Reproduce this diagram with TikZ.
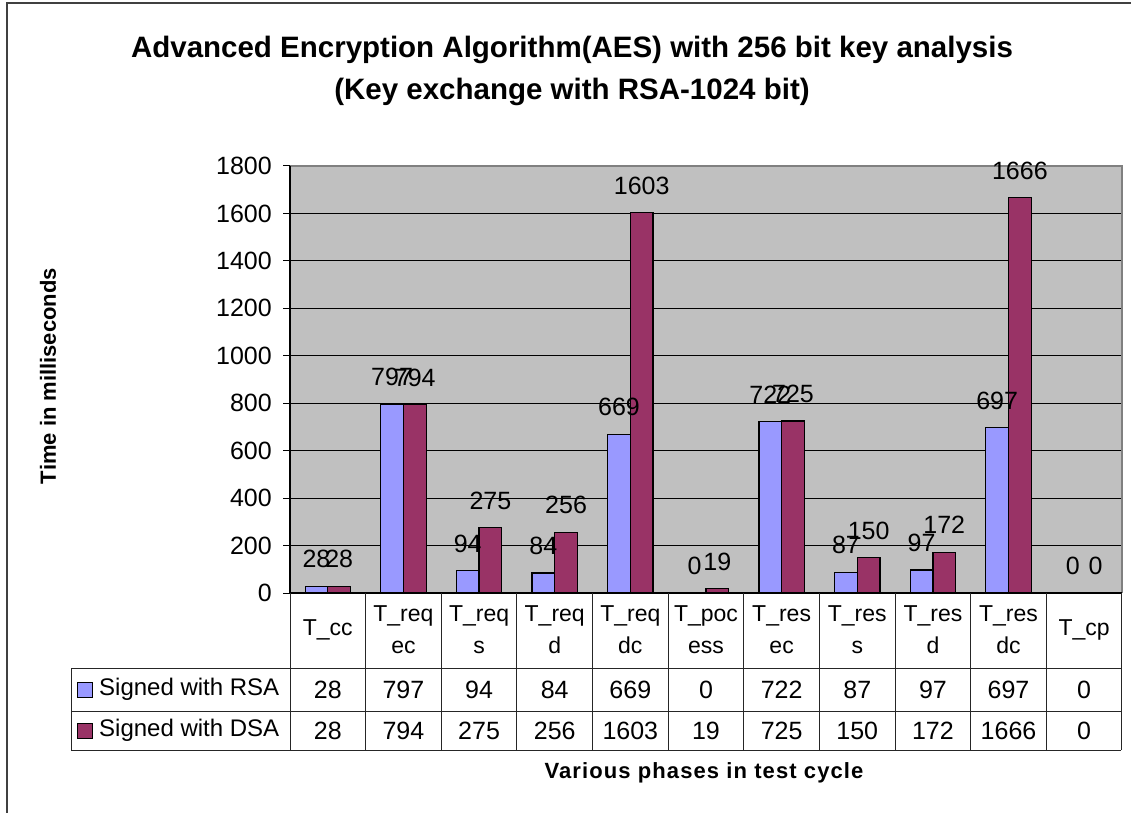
\documentclass[tikz,border=0pt]{standalone}
\usepackage{fontspec}
\setmainfont{Liberation Sans}
\definecolor{rsa}{HTML}{9999FF}
\definecolor{dsa}{HTML}{993366}
\definecolor{plotbg}{HTML}{C0C0C0}
\definecolor{frame}{HTML}{404040}
\begin{document}
\begin{tikzpicture}[x=1pt,y=-1pt,
  lbl/.style={inner sep=0pt,font=\fontsize{25}{29}\selectfont},
  leg/.style={inner sep=0pt,font=\fontsize{24}{28}\selectfont},
  cat/.style={inner sep=0pt,align=center,font=\fontsize{23}{32}\selectfont},
  titlefont/.style={inner sep=0pt,align=center,font=\bfseries\fontsize{29.5}{42}\selectfont},
  axtitle/.style={inner sep=0pt,font=\bfseries\fontsize{22}{26}\selectfont},
  bar/.style={draw=black,line width=1.2pt},
  tline/.style={draw=black!85,line width=1pt},
  grid/.style={draw=black,line width=1pt}]
\useasboundingbox (0,0) rectangle (1131,813);
% outer frame
\draw[frame,line width=2pt] (1131,3) -- (7,3) -- (7,813);
% title
\node[titlefont] (title) at (572,71) {Advanced Encryption Algorithm(AES) with 256 bit key analysis\\(Key exchange with RSA-1024 bit)};
% plot area
\fill[plotbg] (290,166) rectangle (1122,593);
\foreach \v in {200,400,...,1600}{
  \draw[grid] (290,{593-\v*0.237222}) -- (1122,{593-\v*0.237222});
}
\draw[gray,line width=1.2pt] (290,166) -- (1122,166) -- (1122,593);
\foreach \v in {0,200,...,1800}{
  \draw[black,line width=1pt] (283,{593-\v*0.237222}) -- (290,{593-\v*0.237222});
  \node[lbl,anchor=east] (tick\v) at (272,{593-\v*0.237222}) {\v};
}
% bars and data labels
\foreach \r/\d [count=\i from 0] in {28/28,797/794,94/275,84/256,669/1603,0/19,722/725,87/150,97/172,697/1666,0/0}{
  \pgfmathsetmacro{\xl}{290+\i*75.636}
  \draw[bar,fill=rsa] ({\xl+15.1},593) rectangle ({\xl+37.8},{593-\r*0.237222});
  \draw[bar,fill=dsa] ({\xl+37.8},593) rectangle ({\xl+60.5},{593-\d*0.237222});
  \node[lbl] (lr\i) at ({\xl+26.45},{593-\r*0.237222-27}) {\r};
  \node[lbl] (ld\i) at ({\xl+49.15},{593-\d*0.237222-27}) {\d};
  \node[lbl] (tr\i) at ({\xl+37.8},689.5) {\r};
  \node[lbl] (td\i) at ({\xl+37.8},730.5) {\d};
}
% axes
\draw[black,line width=1.2pt] (290,593) -- (1122,593);
\draw[black,line width=1.2pt] (290,166) -- (290,593);
% table
\foreach \k in {0,...,10}{
  \draw[tline] ({290+\k*75.636},593) -- ({290+\k*75.636},750);
}
\draw[tline] (1121,593) -- (1121,750);
\draw[tline] (71,668) -- (1121,668);
\draw[tline] (71,711) -- (1121,711);
\draw[tline] (71,750) -- (1121,750);
\draw[tline] (71,668) -- (71,750);
% category labels
\foreach \c [count=\i from 0] in {{T\_cc},{T\_req\\ec},{T\_req\\s},{T\_req\\d},{T\_req\\dc},{T\_poc\\ess},{T\_res\\ec},{T\_res\\s},{T\_res\\d},{T\_res\\dc},{T\_cp}}{
  \node[cat] (c\i) at ({290+\i*75.636+37.8},630) {\c};
}
% legend
\draw[black,line width=1pt,fill=rsa] (77,682) rectangle (92,697);
\node[leg,anchor=west] (legr) at (99,689.5) {Signed with RSA};
\draw[black,line width=1pt,fill=dsa] (77,723) rectangle (92,738);
\node[leg,anchor=west] (legd) at (99,730.5) {Signed with DSA};
% axis titles
\node[axtitle,rotate=90] (ytitle) at (48,376) {Time in milliseconds};
\node[axtitle,font=\bfseries\fontsize{22}{26}\selectfont\addfontfeature{LetterSpace=5}] (xtitle) at (704,773) {Various phases in test cycle};
\end{tikzpicture}
\end{document}
